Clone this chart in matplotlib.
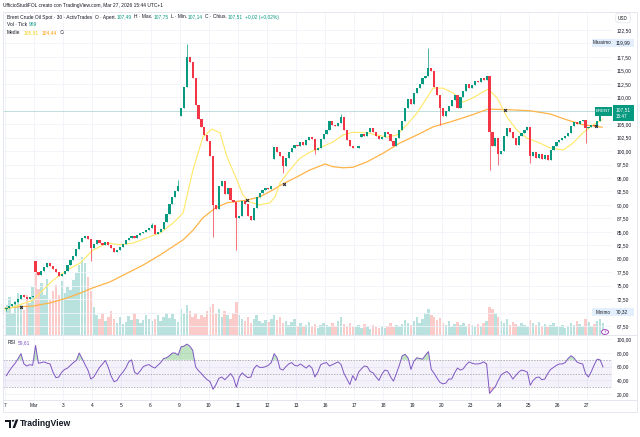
import numpy as np
import matplotlib.pyplot as plt
from matplotlib.patches import Rectangle, Circle, Polygon

plt.rcParams['font.family'] = ['Liberation Sans', 'DejaVu Sans']

# Brent 30m, resampled to 10 bars per trading day (Feb 27 .. Mar 27)
closes = [
    70.9, 71.2, 71.5, 72.0, 72.6, 73.3, 72.8, 72.6, 72.9, 73.1,          # Feb 27
    77.6, 77.0, 77.8, 78.5, 79.3, 78.6, 78.0, 77.5, 76.8, 77.2,          # Mar 2
    77.8, 78.8, 79.7, 80.6, 81.8, 83.2, 83.8, 84.3, 83.6, 82.0,          # 3
    82.8, 83.4, 83.0, 82.5, 83.2, 82.6, 82.0, 81.3, 81.6, 82.2,          # 4
    82.8, 83.5, 83.9, 84.2, 83.8, 84.4, 84.8, 85.0, 85.3, 85.8,          # 5
    86.2, 84.6, 84.9, 85.6, 86.8, 88.4, 90.2, 91.5, 92.6, 93.6,          # 6
    108.0, 112.0, 117.5, 116.5, 113.5, 108.5, 106.0, 104.5, 103.0, 101.8,  # 9
    99.0, 90.0, 89.2, 93.5, 94.5, 92.0, 93.2, 91.0, 90.5, 87.5,          # 10
    88.0, 90.8, 90.2, 88.0, 87.2, 89.5, 91.5, 92.3, 92.8, 93.2,          # 11
    93.0, 93.5, 100.8, 99.8, 99.0, 97.2, 98.8, 99.8, 100.5, 101.2,       # 12
    101.0, 101.6, 101.2, 102.0, 102.6, 102.2, 100.2, 100.6, 102.3, 103.2,  # 13
    104.0, 105.5, 104.8, 104.6, 105.3, 106.3, 104.0, 102.0, 101.0, 100.5,  # 16
    100.6, 101.0, 103.2, 102.8, 103.6, 104.3, 103.5, 102.8, 102.2, 102.6,  # 17
    103.6, 103.2, 101.8, 100.9, 102.5, 104.0, 105.5, 108.0, 109.6, 108.8,  # 18
    110.8, 111.8, 112.4, 113.5, 114.0, 115.5, 114.8, 112.0, 110.5, 108.0,  # 19
    106.5, 107.4, 108.4, 109.5, 110.5, 108.0, 110.0, 111.2, 112.4, 111.8,  # 20
    112.2, 113.0, 112.8, 113.5, 113.2, 114.0, 103.5, 101.0, 102.5, 99.5,   # 23
    100.0, 102.8, 104.2, 103.6, 102.5, 101.2, 102.8, 103.4, 104.0, 104.4,  # 24
    99.0, 99.8, 98.8, 99.4, 98.5, 99.2, 98.3, 100.2, 101.0, 101.6,       # 25
    102.0, 102.4, 102.8, 103.4, 104.6, 105.4, 105.0, 105.6, 105.8, 104.2,  # 26
    104.5, 104.9, 104.6, 105.6, 106.8, 107.51,                           # 27
]
first_open = 70.7
gap_opens = {10: 79.5, 60: 106.5, 92: 98.5, 122: 102.6}
spike_highs = {50: 86.6, 59: 94.6, 62: 119.99, 115: 106.8, 145: 119.1, 205: 107.75}
spike_lows = {0: 70.32, 29: 79.5, 71: 84.0, 79: 81.6, 95: 96.0, 106: 99.5,
              149: 104.8, 166: 96.5, 169: 97.5, 180: 97.8, 199: 101.5}

volumes = [
    2400, 3040, 1760, 2720, 3360, 2400, 2000, 3200, 2560, 3840,
    4960, 3680, 4160, 3200, 4480, 2880, 3520, 4000, 3200, 4320,
    3360, 3840, 3600, 4400, 4960, 5600, 6240, 5760, 4640, 3520,
    2240, 1600, 1280, 1760, 1120, 1440, 1920, 1280, 960, 1440,
    880, 1040, 1520, 1200, 1760, 1280, 960, 1200, 1600, 1280,
    1120, 1280, 1600, 1120, 1440, 1760, 1360, 1680, 1280, 1040,
    2080, 1760, 2400, 1920, 1440, 1760, 1280, 1600, 1440, 1920,
    2240, 2480, 1760, 2080, 1440, 1920, 1600, 1280, 1760, 2640,
    1600, 1280, 1120, 1440, 960, 1280, 1600, 1120, 960, 1200,
    1040, 1280, 1600, 1200, 1440, 960, 1120, 800, 1040, 1280,
    720, 960, 640, 800, 1040, 720, 880, 560, 800, 960,
    800, 640, 960, 720, 1120, 1440, 880, 720, 960, 640,
    640, 800, 560, 880, 720, 480, 800, 640, 560, 720,
    560, 720, 960, 640, 800, 720, 880, 1200, 960, 800,
    1120, 1440, 960, 1280, 1760, 2080, 1600, 1440, 1200, 1360,
    960, 800, 1120, 720, 880, 1040, 800, 960, 720, 880,
    800, 640, 880, 720, 960, 1120, 2240, 2080, 1760, 1440,
    1120, 960, 1280, 800, 1040, 880, 720, 960, 800, 640,
    1200, 960, 800, 1040, 720, 880, 640, 800, 960, 720,
    640, 800, 560, 720, 960, 800, 1120, 880, 720, 1280,
    1040, 720, 880, 1120, 1280, 969,
]

rsi = [
    47, 54, 60, 65, 72, 79, 64, 61, 63, 62,
    91, 65, 66, 67, 65, 64, 52, 44, 45, 52,
    56, 58, 62, 66, 69, 80, 72, 63, 55, 42,
    45, 52, 59, 64, 69, 59, 46, 38, 40, 47,
    52, 58, 67, 70, 52, 49, 54, 60, 62, 63,
    60, 58, 62, 66, 72, 73, 76, 80, 80, 77,
    89, 90, 93, 90, 84, 60, 54, 50, 45, 41,
    38, 27, 34, 43, 45, 41, 45, 50, 44, 30,
    45, 51, 47, 44, 45, 57, 62, 59, 59, 60,
    62, 66, 79, 73, 57, 55, 60, 64, 66, 62,
    61, 64, 61, 58, 62, 58, 45, 52, 63, 65,
    66, 61, 63, 65, 67, 63, 50, 42, 34, 47,
    40, 52, 57, 61, 60, 53, 51, 45, 40, 49,
    55, 54, 45, 39, 50, 62, 76, 78, 73, 56,
    68, 73, 72, 71, 77, 82, 56, 50, 43, 37,
    35, 36, 42, 42, 51, 58, 55, 57, 63, 67,
    65, 64, 64, 65, 67, 64, 21, 26, 31, 40,
    48, 51, 53, 49, 42, 47, 52, 55, 54, 52,
    33, 40, 44, 45, 41, 42, 50, 56, 59, 62,
    64, 64, 66, 72, 76, 73, 67, 65, 64, 50,
    45, 53, 63, 71, 70, 59.61,
]

# moving averages (time in trading days from Feb 27)
ma_fast_t = [0.00, 0.96, 1.31, 1.65, 2.13, 2.58, 3.02, 3.51, 3.95, 4.40,
             4.88, 5.33, 5.77, 6.12, 6.46, 6.80, 7.11, 7.39, 7.63, 7.97,
             8.18, 8.42, 8.76, 9.11, 9.28, 9.45, 9.79, 10.14, 10.48, 10.82,
             11.27, 11.62, 11.96, 12.44, 12.78, 13.13, 13.47, 13.81, 14.16, 14.50,
             14.71, 15.05, 15.40, 15.74, 16.08, 16.43, 16.60, 16.91, 17.25, 17.59,
             17.94, 18.38, 18.73, 19.18, 19.52, 19.86, 20.21, 20.52]
ma_fast = [70.5, 72.3, 74.2, 76.0, 77.9, 79.2, 81.6, 82.9, 82.6, 82.9,
           83.9, 84.8, 86.6, 88.5, 96.5, 102.6, 104.1, 103.4, 98.9, 94.6,
           91.8, 90.5, 90.0, 90.4, 91.5, 94.1, 96.5, 98.7, 99.8, 100.6,
           101.7, 103.0, 103.5, 103.4, 103.0, 102.6, 103.0, 104.9, 107.1, 109.9,
           111.7, 111.7, 110.8, 109.1, 109.9, 111.0, 111.5, 109.9, 106.3, 103.9,
           102.4, 101.5, 100.6, 100.2, 101.5, 103.4, 104.9, 105.81]
ma_slow_t = [0.00, 0.52, 0.96, 1.55, 2.13, 2.58, 3.02, 3.61, 4.19, 4.74,
             5.33, 6.12, 6.46, 6.80, 7.22, 7.63, 8.32, 8.76, 9.21, 9.55,
             10.03, 10.48, 11.00, 11.27, 11.62, 11.96, 12.44, 12.99, 13.57, 14.16,
             14.71, 15.29, 15.98, 16.60, 17.25, 18.04, 18.73, 19.31, 19.86, 20.52]
ma_slow = [70.8, 71.1, 71.2, 71.8, 72.7, 73.6, 74.6, 75.7, 77.3, 78.8,
           80.7, 83.5, 85.3, 87.6, 89.4, 90.4, 90.9, 91.5, 92.8, 93.9,
           95.2, 96.5, 97.6, 97.1, 96.9, 97.0, 98.0, 99.6, 101.5, 103.0,
           104.5, 105.4, 106.6, 107.8, 107.7, 107.5, 106.9, 105.8, 104.9, 104.44]
cross_t = [0.55, 8.32, 9.59, 17.18, 20.31]
cross_p = [71.1, 90.9, 93.9, 107.6, 104.6]

day_labels = ['7', 'Mar', '3', '4', '5', '6', '9', '10', '11', '12', '13',
              '16', '17', '18', '19', '20', '23', '24', '25', '26', '27']

UP, DN = '#089981', '#f23645'
TXT = '#131722'
GRID = '#f0f3fa'

W, H = 640, 437
fig = plt.figure(figsize=(W / 100, H / 100), dpi=100)


def fx(x):
    return x / W


def fy(y):
    return 1 - y / H


def day(px):
    return (px - 5) / 29.1


def price(y):
    return 122.5 - (y - 30) / 5.382


def rsi_val(y):
    return 80 - (y - 353) / 0.685


n = len(closes)
t = (np.arange(n) + 0.5) / 10
c = np.array(closes, dtype=float)
o = np.r_[first_open, c[:-1]]
for k, v in gap_opens.items():
    o[k] = v
hi = np.maximum(o, c)
lo = np.minimum(o, c)
for k, v in spike_highs.items():
    hi[k] = v
for k, v in spike_lows.items():
    lo[k] = v
up = c >= o
col = np.where(up, UP, DN)

rect_price = [fx(3), fy(335), fx(612) - fx(3), fy(12) - fy(335)]
xl = (day(3), day(612))

# volume (behind)
axv = fig.add_axes(rect_price)
axv.set_xlim(xl)
axv.set_ylim(0, 26000)
axv.axis('off')
vcol = [(0.15, 0.65, 0.60, 0.32) if u else (0.94, 0.33, 0.31, 0.30) for u in up]
axv.bar(t, volumes, width=0.085, color=vcol, linewidth=0)

# price pane
ax = fig.add_axes(rect_price)
ax.patch.set_visible(False)
ax.set_xlim(xl)
ax.set_ylim(price(335), price(12))
for s in ax.spines.values():
    s.set_visible(False)
ax.set_xticks(range(21))
yt = np.arange(67.5, 125, 2.5)
ax.set_yticks(yt)
ax.set_yticklabels(['' if round(v, 1) in (120.0, 107.5, 70.0) else f'{v:.2f}'.replace('.', ',') for v in yt])
ax.yaxis.tick_right()
ax.tick_params(axis='y', length=0, pad=3.6, labelsize=3.5, labelcolor=TXT)
ax.tick_params(axis='x', length=0, labelbottom=False)
ax.grid(color=GRID, lw=0.6)
ax.set_axisbelow(True)

ax.axhline(closes[-1], color='#089981', alpha=0.3, lw=0.5)
ax.plot(ma_slow_t, ma_slow, color='#ffb347', lw=0.9, zorder=3)
ax.plot(ma_fast_t, ma_fast, color='#ffe866', lw=0.8, zorder=3)
ax.vlines(t, lo, hi, colors=col, lw=0.5, zorder=4)
ax.bar(t, np.maximum(np.abs(c - o), 0.12), bottom=np.minimum(o, c),
       width=0.075, color=col, linewidth=0, zorder=4)
ax.plot(cross_t, cross_p, ls='none', marker='X', ms=2.6, color='#2a2e39', mew=0, zorder=5)

# RSI pane
axr = fig.add_axes([fx(3), fy(400), fx(612) - fx(3), fy(335) - fy(400)])
axr.set_xlim(xl)
axr.set_ylim(rsi_val(400), rsi_val(335))
for s in axr.spines.values():
    s.set_visible(False)
axr.set_xticks(range(21))
axr.set_xticklabels(day_labels)
axr.set_yticks([20, 40, 60, 80, 100])
axr.set_yticklabels(['20,00', '40,00', '60,00', '80,00', '100,00'])
axr.yaxis.tick_right()
axr.tick_params(axis='y', length=0, pad=3.6, labelsize=3.5, labelcolor=TXT)
axr.tick_params(axis='x', length=0, pad=2.2, labelsize=3.5, labelcolor=TXT)
axr.grid(color=GRID, lw=0.6)
axr.set_axisbelow(True)
r = np.array(rsi, dtype=float)
axr.axhspan(30, 70, color='#7e57c2', alpha=0.08, lw=0)
for lv in (70, 50, 30):
    axr.axhline(lv, color='#9598a1', lw=0.5, ls=(0, (2, 2)))
axr.fill_between(t, 70, r, where=r > 70, interpolate=True, color='#4caf50', alpha=0.35, lw=0)
axr.fill_between(t, 30, r, where=r < 30, interpolate=True, color='#f23645', alpha=0.25, lw=0)
axr.plot(t, r, color='#7e57c2', lw=0.7)

# frame and separators
fig.add_artist(Rectangle((fx(3), fy(412)), fx(637) - fx(3), fy(12) - fy(412),
                         transform=fig.transFigure, fill=False, ec='#e0e3eb', lw=0.6))
for yy in (335, 400):
    fig.add_artist(plt.Line2D([fx(3), fx(637)], [fy(yy), fy(yy)], color='#e0e3eb', lw=0.6))

# header / legend rows
fig.text(fx(3), fy(6), 'UfficioStudiFOL creato con TradingView.com, Mar 27, 2026 15:44 UTC+1',
         fontsize=3.5, color=TXT, va='center')
rend = fig.canvas.get_renderer()


def row(x, y, parts, size=3.5):
    for s, cc, gap in parts:
        tx = fig.text(fx(x), fy(y), s, color=cc, fontsize=size, va='center', ha='left')
        x += tx.get_window_extent(renderer=rend).width + gap


row(7, 17, [('Brent Crude Oil Spot · 30 · ActivTrades', TXT, 3),
            ('O · Apert.', TXT, 0.5), ('107,49', UP, 2.5),
            ('H · Max.', TXT, 0.5), ('107,75', UP, 2.5),
            ('L · Min.', TXT, 0.5), ('107,14', UP, 2.5),
            ('C · Chius.', TXT, 0.5), ('107,51', UP, 2), ('+0,02 (+0,02%)', UP, 0)])
row(7, 25, [('Vol · Tick', TXT, 2), ('969', UP, 0)])
row(7, 33, [('Medie', TXT, 3), ('105,81', '#f5d20a', 3), ('104,44', '#ff9800', 3), ('∅', TXT, 0)])
row(8, 343, [('RSI', TXT, 2), ('59,61', '#7e57c2', 0)])

# right scale badges
fig.text(fx(623), fy(18), 'USD', fontsize=3.3, color=TXT, ha='center', va='center',
         bbox=dict(boxstyle='round,pad=0.5', fc='white', ec='#e0e3eb', lw=0.5))
for (y0, name, val) in [(43, 'Massimo', '119,99'), (312, 'Minimo', '70,32')]:
    fig.add_artist(Rectangle((fx(592), fy(y0 + 4)), fx(634) - fx(592), fy(y0 - 4) - fy(y0 + 4),
                             transform=fig.transFigure, fc='#e3effd', ec='none'))
    fig.text(fx(611), fy(y0), name, fontsize=3.3, color=TXT, ha='right', va='center')
    fig.text(fx(616), fy(y0), val, fontsize=3.5, color=TXT, ha='left', va='center')
fig.add_artist(Rectangle((fx(595), fy(116)), fx(612) - fx(595), fy(107) - fy(116),
                         transform=fig.transFigure, fc=UP, ec='none'))
fig.text(fx(603.5), fy(111.5), 'BRENT', fontsize=3.2, color='white', ha='center', va='center')
fig.add_artist(Rectangle((fx(613), fy(121)), fx(634) - fx(613), fy(105) - fy(121),
                         transform=fig.transFigure, fc=UP, ec='none'))
fig.text(fx(616), fy(109.5), '107,51', fontsize=3.5, color='white', ha='left', va='center')
fig.text(fx(616), fy(116.5), '15:47', fontsize=3.3, color='white', ha='left', va='center')
fig.add_artist(Circle((fx(605), fy(332)), 3.5 / W, transform=fig.transFigure,
                      fc='white', ec='#9c27b0', lw=0.6))
fig.text(fx(605), fy(332), '⚡', fontsize=3, color='#9c27b0', ha='center', va='center',
         family=['DejaVu Sans'])

# TradingView logo
for (x0, y0, x1, y1) in [(5, 419.5, 11, 422), (8.5, 419.5, 11, 428)]:
    fig.add_artist(Rectangle((fx(x0), fy(y1)), fx(x1) - fx(x0), fy(y0) - fy(y1),
                             transform=fig.transFigure, fc=TXT, ec='none'))
fig.add_artist(Circle((fx(13), fy(420.8)), 1.3 / W, transform=fig.transFigure, fc=TXT, ec='none'))
fig.add_artist(Polygon([(fx(12.5), fy(428)), (fx(15.8), fy(419.5)), (fx(18.3), fy(419.5)),
                        (fx(15), fy(428))], closed=True, transform=fig.transFigure, fc=TXT, ec='none'))
fig.text(fx(20), fy(424), 'TradingView', fontsize=6.2, fontweight='bold', color=TXT, va='center')

fig.savefig('out.png', dpi=100, facecolor='white')
